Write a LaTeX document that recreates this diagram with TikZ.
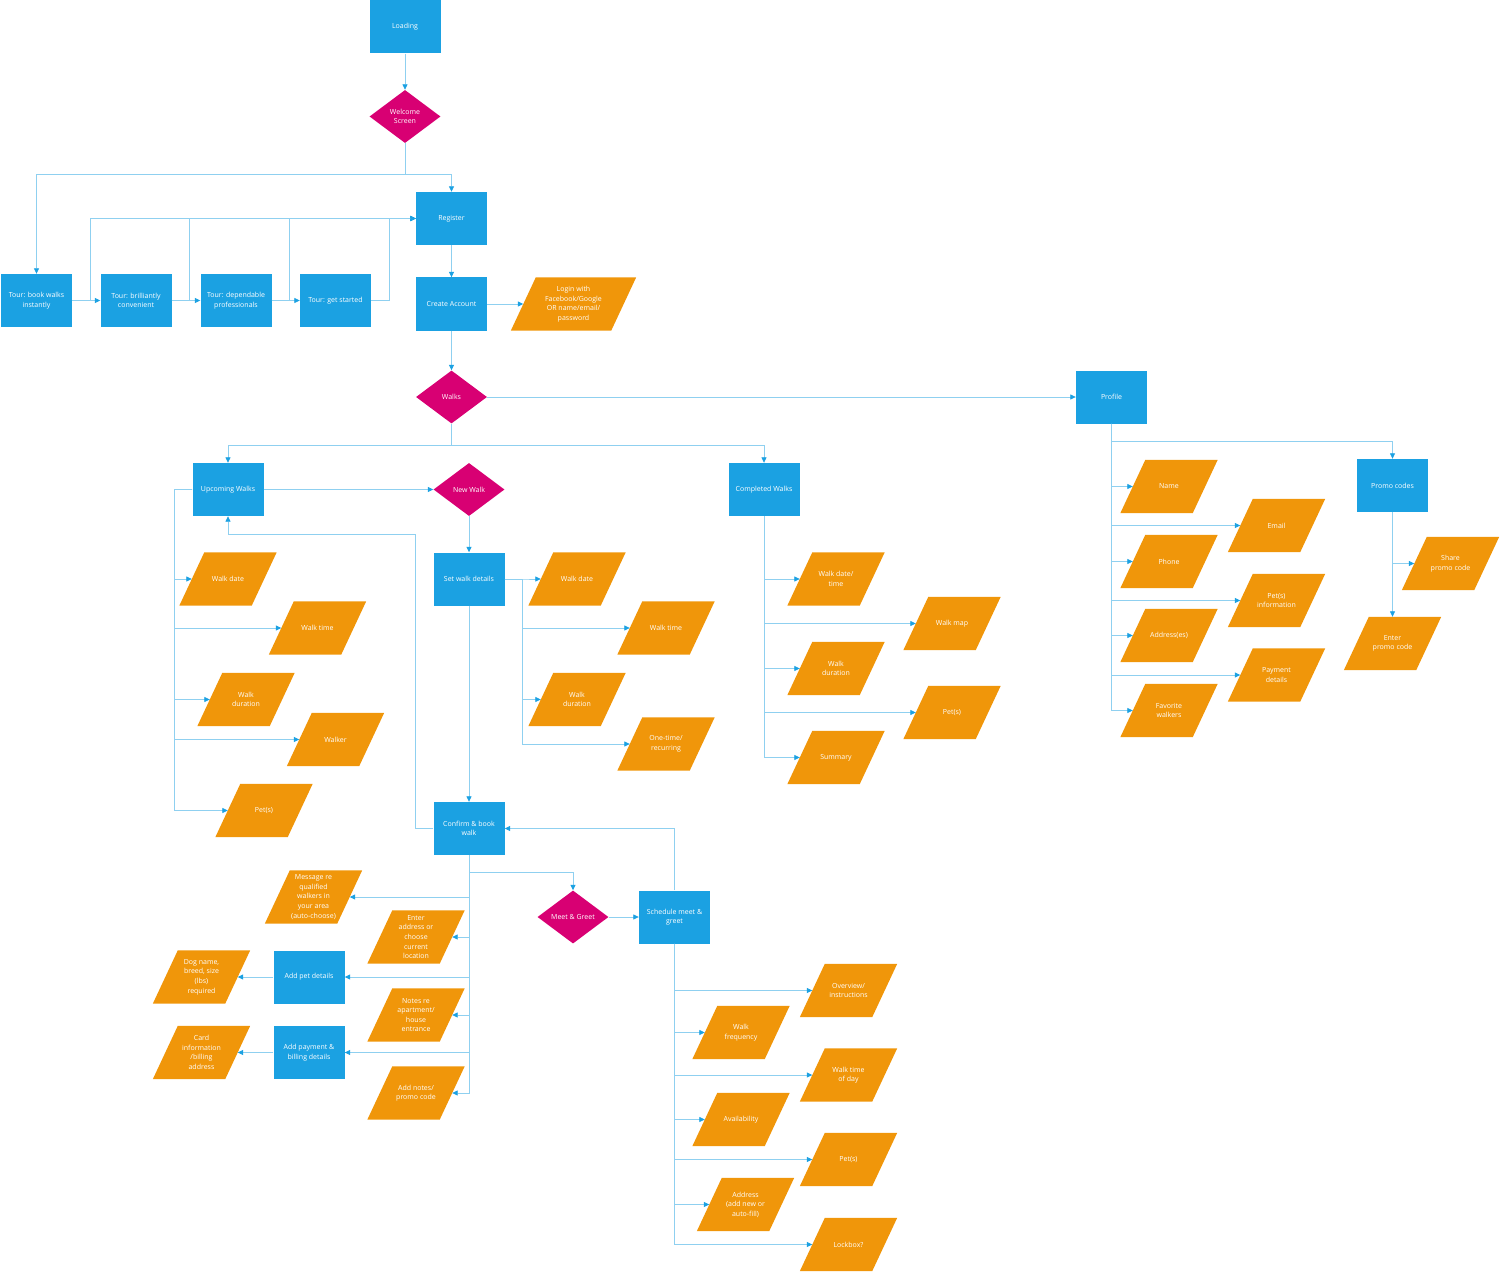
\documentclass[tikz,border=0pt]{standalone}
\usepackage{fontspec}
\setmainfont{Open Sans}
\usetikzlibrary{shapes.geometric,arrows.meta}

\definecolor{boxblue}{HTML}{1BA1E2}
\definecolor{linkblue}{HTML}{8FD0F0}
\definecolor{choicepink}{HTML}{D80073}
\definecolor{fieldorange}{HTML}{F0960A}

% data box: rectangle borders, slanted fill
\makeatletter
\pgfdeclareshape{slantbox}{
  \inheritsavedanchors[from=rectangle]
  \inheritanchorborder[from=rectangle]
  \inheritanchor[from=rectangle]{center}
  \inheritanchor[from=rectangle]{north}
  \inheritanchor[from=rectangle]{south}
  \inheritanchor[from=rectangle]{west}
  \inheritanchor[from=rectangle]{east}
  \inheritanchor[from=rectangle]{text}
  \inheritanchor[from=rectangle]{base}
  \inheritanchor[from=rectangle]{mid}
  \backgroundpath{
    \southwest \pgf@xa=\pgf@x \pgf@ya=\pgf@y
    \northeast \pgf@xb=\pgf@x \pgf@yb=\pgf@y
    \pgf@xc=\pgf@xa \advance\pgf@xc by -12.5pt
    \pgf@xd=\pgf@xb \advance\pgf@xd by -12.5pt
    \advance\pgf@xa by 12.5pt
    \advance\pgf@xb by 12.5pt
    \pgfpathmoveto{\pgfqpoint{\pgf@xc}{\pgf@ya}}
    \pgfpathlineto{\pgfqpoint{\pgf@xd}{\pgf@ya}}
    \pgfpathlineto{\pgfqpoint{\pgf@xb}{\pgf@yb}}
    \pgfpathlineto{\pgfqpoint{\pgf@xa}{\pgf@yb}}
    \pgfpathclose
  }
}
\makeatother

\begin{document}
\begin{tikzpicture}[x=1pt,y=-1pt,
    every node/.style={font=\fontsize{7}{9.6}\selectfont,text=white,align=center},
    screen/.style={rectangle,fill=boxblue,minimum width=71pt,minimum height=53pt,inner sep=1pt},
    choice/.style={diamond,fill=choicepink,minimum width=71pt,minimum height=53pt,inner sep=0pt},
    field/.style={slantbox,fill=fieldorange,minimum width=72pt,minimum height=53pt,inner sep=1pt},
    link/.style={draw=linkblue,line width=0.8pt,-{Triangle[length=5.5pt,width=5pt,color=boxblue]}}]
    \useasboundingbox (0,0) rectangle (1501,1273);

    % start and tour
    \node[screen] (load) at (405,27) {Loading};
    \node[choice] (welcome) at (405,116.5) {Welcome\\Screen};
    \node[screen] (reg) at (451.5,218.5) {Register};
    \node[screen] (tour_1) at (36.5,300.5) {Tour: book walks\\instantly};
    \node[screen] (tour_2) at (136,300.5) {Tour: brilliantly\\convenient};
    \node[screen] (tour_3) at (236,300.5) {Tour: dependable\\professionals};
    \node[screen] (tour_4) at (335.5,300.5) {Tour: get started};
    \node[screen] (create) at (451.5,304) {Create Account};
    \node[field,minimum width=100pt] (login) at (573.5,304) {Login with\\Facebook/Google\\OR name/email/\\password};
    \coordinate (fork_top) at (405,174);
    \draw[link] (load) -- (welcome);
    \draw[link] (welcome) -- (fork_top) -| (tour_1);
    \draw[link] (fork_top) -| (reg);
    \draw[link] (tour_1) -- (tour_2);
    \draw[link] (tour_2) -- (tour_3);
    \draw[link] (tour_3) -- (tour_4);
    \foreach \t in {tour_1,tour_2,tour_3,tour_4}
        \draw[link] (\t.east) -- ++(18,0) |- (reg);
    \draw[link] (reg) -- (create);
    \draw[link] (create) -- (login);

    % walks
    \node[choice] (walks) at (451.5,397) {Walks};
    \node[screen] (profile) at (1111.5,397) {Profile};
    \node[screen] (upcoming) at (228,489.5) {Upcoming Walks};
    \node[choice] (new) at (469,489.5) {New Walk};
    \node[screen] (completed) at (764,489.5) {Completed Walks};
    \coordinate (fork_walks) at (451.5,445);
    \draw[link] (create) -- (walks);
    \draw[link] (walks) -- (profile);
    \draw[link] (walks) -- (fork_walks) -| (upcoming);
    \draw[link] (fork_walks) -| (completed);
    \draw[link] (upcoming) -- (new);

    % upcoming walks
    \node[field] (up_date) at (228,579) {Walk date};
    \node[field] (up_time) at (317.5,628) {Walk time};
    \node[field] (up_dur) at (246,699.5) {Walk\\duration};
    \node[field] (up_walker) at (335.5,739.5) {Walker};
    \node[field] (up_pets) at (264,810.5) {Pet(s)};
    \foreach \f in {up_date,up_time,up_dur,up_walker,up_pets}
        \draw[link] (upcoming.west) -- ++(-18,0) |- (\f);

    % new walk
    \node[screen] (details) at (469,579) {Set walk details};
    \node[field] (nw_date) at (577,579) {Walk date};
    \node[field] (nw_time) at (666,628) {Walk time};
    \node[field] (nw_dur) at (577,699.5) {Walk\\duration};
    \node[field] (nw_once) at (666,744) {One-time/\\recurring};
    \draw[link] (new) -- (details);
    \foreach \f in {nw_date,nw_time,nw_dur,nw_once}
        \draw[link] (details.east) -- ++(18,0) |- (\f);

    % completed walks
    \node[field] (cw_date) at (836,579) {Walk date/\\time};
    \node[field] (cw_map) at (952,623.5) {Walk map};
    \node[field] (cw_dur) at (836,668.5) {Walk\\duration};
    \node[field] (cw_pets) at (952,712.5) {Pet(s)};
    \node[field] (cw_sum) at (836,757.5) {Summary};
    \foreach \f in {cw_date,cw_map,cw_dur,cw_pets,cw_sum}
        \draw[link] (completed) |- (\f);

    % booking
    \node[screen] (confirm) at (469,828.5) {Confirm \& book\\walk};
    \node[choice] (meet) at (573,917) {Meet \& Greet};
    \node[screen] (schedule) at (674.5,917) {Schedule meet \&\\greet};
    \coordinate (back_up) at (415.5,534);
    \coordinate (fork_meet) at (469,872);
    \draw[link] (details) -- (confirm);
    \draw[link] (confirm) -| (back_up) -| (upcoming);
    \draw[link] (confirm) -- (fork_meet) -| (meet);
    \draw[link] (meet) -- (schedule);
    \draw[link] (schedule) |- (confirm);

    \node[field] (msg) at (313.5,897) {Message re\\qualified\\walkers in\\your area\\(auto-choose)};
    \node[field] (addr) at (416,937) {Enter\\address or\\choose\\current\\location};
    \node[screen] (pet) at (309,977) {Add pet details};
    \node[field] (notes) at (416,1015) {Notes re\\apartment/\\house\\entrance};
    \node[screen] (pay) at (309,1052.5) {Add payment \&\\billing details};
    \node[field] (promo) at (416,1093) {Add notes/\\promo code};
    \node[field] (dog) at (201.5,977) {Dog name,\\breed, size\\(lbs)\\required};
    \node[field] (card) at (201.5,1052.5) {Card\\information\\/billing\\address};
    \foreach \f in {msg,addr,pet,notes,pay,promo}
        \draw[link] (confirm) |- (\f);
    \draw[link] (pet) -- (dog);
    \draw[link] (pay) -- (card);

    % meet and greet
    \node[field] (mg_over) at (848.5,990.5) {Overview/\\instructions};
    \node[field] (mg_freq) at (741,1032.5) {Walk\\frequency};
    \node[field] (mg_time) at (848.5,1075) {Walk time\\of day};
    \node[field] (mg_avail) at (741,1119.5) {Availability};
    \node[field] (mg_pets) at (848.5,1159.5) {Pet(s)};
    \node[field] (mg_addr) at (745.5,1204.5) {Address\\(add new or\\auto-fill)};
    \node[field] (mg_lock) at (848.5,1244.5) {Lockbox?};
    \foreach \f in {mg_over,mg_freq,mg_time,mg_avail,mg_pets,mg_addr,mg_lock}
        \draw[link] (schedule) |- (\f);

    % profile
    \node[field] (pr_name) at (1169,486.5) {Name};
    \node[field] (pr_email) at (1276.5,525.5) {Email};
    \node[field] (pr_phone) at (1169,561.5) {Phone};
    \node[field] (pr_pets) at (1276.5,600.5) {Pet(s)\\information};
    \node[field] (pr_addr) at (1169,635.5) {Address(es)};
    \node[field] (pr_pay) at (1276.5,675) {Payment\\details};
    \node[field] (pr_fav) at (1169,710.5) {Favorite\\walkers};
    \node[screen] (promos) at (1392.5,485.5) {Promo codes};
    \node[field] (share) at (1450.5,563.5) {Share\\promo code};
    \node[field] (enter) at (1392.5,643.5) {Enter\\promo code};
    \coordinate (fork_prof) at (1111.5,441);
    \draw[link] (profile) -- (fork_prof) -| (promos);
    \foreach \f in {pr_name,pr_email,pr_phone,pr_pets,pr_addr,pr_pay,pr_fav}
        \draw[link] (profile) |- (\f);
    \draw[link] (promos) |- (share);
    \draw[link] (promos) -- (enter);
\end{tikzpicture}
\end{document}
